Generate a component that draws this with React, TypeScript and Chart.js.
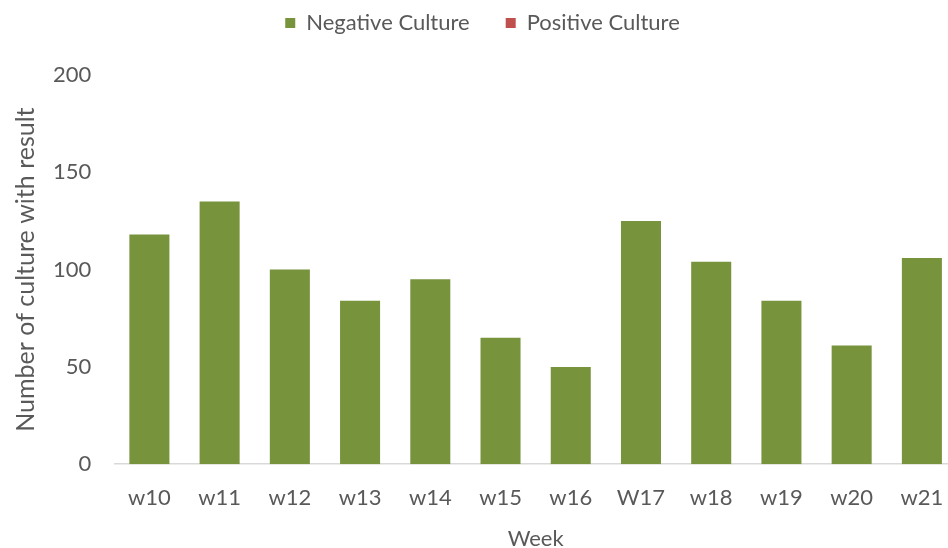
import React, { useEffect, useRef } from "react";
import { Chart, registerables } from "chart.js";

Chart.register(...registerables);

const weeks = ["w10", "w11", "w12", "w13", "w14", "w15", "w16", "W17", "w18", "w19", "w20", "w21"];
const negativeCulture = [118, 135, 100, 84, 95, 65, 50, 125, 104, 84, 61, 106];
const positiveCulture = [0, 0, 0, 0, 0, 0, 0, 0, 0, 0, 0, 0];
const yTicks = [0, 50, 100, 150, 200];

const FONT = "Lato, 'Open Sans', sans-serif";
const GREY = "#595959";

const legendHeight = {
  id: "legendHeight",
  beforeInit(chart: any) {
    const legend = chart.legend;
    if (!legend) return;
    const orig = legend.fit;
    legend.fit = function () {
      orig.call(this);
      this.height = 99;
    };
  },
};

export default function App() {
  const ref = useRef<HTMLCanvasElement | null>(null);

  useEffect(() => {
    if (!ref.current) return;
    const chart = new Chart(ref.current, {
      type: "bar",
      data: {
        labels: weeks,
        datasets: [
          {
            label: "Negative Culture",
            data: negativeCulture,
            backgroundColor: "#77933C",
            barPercentage: 0.57,
            categoryPercentage: 1,
          },
          {
            label: "Positive Culture",
            data: positiveCulture,
            backgroundColor: "#C0504D",
            barPercentage: 0.57,
            categoryPercentage: 1,
          },
        ],
      },
      plugins: [legendHeight],
      options: {
        animation: false,
        responsive: false,
        maintainAspectRatio: false,
        layout: { padding: { top: -24, left: 8, right: 13, bottom: -4 } },
        plugins: {
          legend: {
            position: "top",
            labels: {
              boxWidth: 10,
              boxHeight: 10,
              color: GREY,
              font: { family: FONT, size: 22 },
              padding: 36,
            },
          },
          tooltip: { enabled: false },
        },
        scales: {
          x: {
            stacked: true,
            grid: { display: false, drawTicks: false },
            border: { display: true, color: "#d9d9d9", width: 1.5 },
            ticks: { color: GREY, font: { family: FONT, size: 22 }, padding: 21 },
            title: {
              display: true,
              text: "Week",
              color: GREY,
              font: { family: FONT, size: 22 },
              padding: { top: -7, bottom: 0 },
            },
          },
          y: {
            stacked: true,
            min: 0,
            max: 200,
            afterBuildTicks: (axis: any) => {
              axis.ticks = yTicks.map((v) => ({ value: v }));
            },
            grid: { display: false, drawTicks: false },
            border: { display: false },
            ticks: { color: GREY, font: { family: FONT, size: 22 }, padding: 23 },
            title: {
              display: true,
              text: "Number of culture with result",
              color: GREY,
              font: { family: FONT, size: 25 },
              padding: { top: 3, bottom: -11 },
            },
          },
        },
      },
    });
    return () => chart.destroy();
  }, []);

  return (
    <div
      style={{
        position: "fixed",
        left: 0,
        top: 0,
        width: 948,
        height: 548,
        overflow: "hidden",
        background: "#fff",
      }}
    >
      <canvas ref={ref} width={970} height={548} style={{ display: "block" }} />
    </div>
  );
}
